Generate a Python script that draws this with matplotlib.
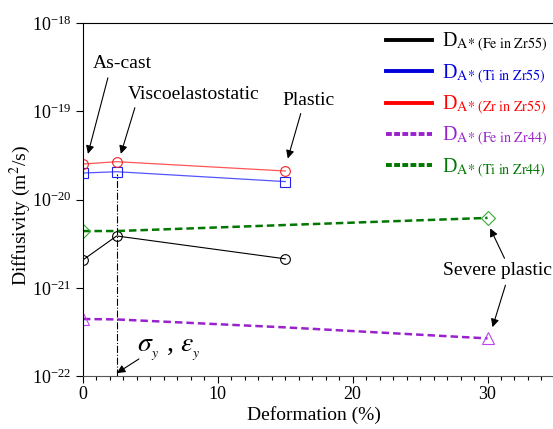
import matplotlib
matplotlib.use("Agg")
import matplotlib.pyplot as plt
from matplotlib.ticker import MultipleLocator, LogLocator, NullLocator
from matplotlib.lines import Line2D

plt.rcParams['font.family'] = ['Liberation Serif', 'DejaVu Serif']
plt.rcParams['mathtext.fontset'] = 'stix'

# Zr55 series (measured at as-cast, viscoelastostatic, plastic)
x_zr55 = [0, 2.5, 15]
fe_zr55 = [2.07e-21, 3.87e-21, 2.13e-21]
ti_zr55 = [2.00e-20, 2.07e-20, 1.60e-20]
zr_zr55 = [2.53e-20, 2.69e-20, 2.11e-20]

# Zr44 series (markers only at the ends)
x_zr44 = [0, 2.5, 15, 30]
fe_zr44 = [4.43e-22, 4.38e-22, 3.56e-22, 2.67e-22]
ti_zr44 = [4.40e-21, 4.40e-21, 5.15e-21, 6.20e-21]

labels = [r"D$_{\mathrm{A{*}\ (Fe\ in\ Zr55)}}$",
          r"D$_{\mathrm{A{*}\ (Ti\ in\ Zr55)}}$",
          r"D$_{\mathrm{A{*}\ (Zr\ in\ Zr55)}}$",
          r"D$_{\mathrm{A{*}\ (Fe\ in\ Zr44)}}$",
          r"D$_{\mathrm{A{*}\ (Ti\ in\ Zr44)}}$"]
colors = ['black', '#0000dd', '#ff0000', '#9922cc', '#007700']

yield_x = 2.5

fig = plt.figure(figsize=(5.53, 4.29), dpi=100)
ax = fig.add_axes([0.150, 0.1235, 0.8535, 0.8225])

ax.plot(x_zr55, fe_zr55, color='black', lw=0.8, marker='o', ms=7,
        mfc='none', mec='black', mew=0.8)
ax.plot(x_zr55, ti_zr55, color='#5555ff', lw=0.9, marker='s', ms=6.5,
        mfc='none', mec='#2222ee', mew=0.8)
ax.plot(x_zr55, zr_zr55, color='#ff5555', lw=0.9, marker='o', ms=7,
        mfc='none', mec='#ee2222', mew=0.8)
ax.plot(x_zr44, fe_zr44, color='#9922cc', lw=1.8, ls=(0, (3, 1.6)),
        marker='^', ms=8, mfc='none', mec='#bb44ee', mew=0.8, markevery=[0, 3])
ax.plot(x_zr44, ti_zr44, color='#007700', lw=1.8, ls=(0, (3, 1.6)),
        marker='D', ms=7, mfc='none', mec='#33aa33', mew=0.8, markevery=[0, 3])

# yield point marker line
ax.plot([yield_x, yield_x], [1e-22, ti_zr55[1] * 0.93], color='black',
        lw=0.8, ls='-.')

ax.set_yscale('log')
ax.set_xlim(0, 35)
ax.set_ylim(1e-22, 1e-18)
ax.yaxis.set_major_locator(LogLocator(base=10, numticks=10))
ax.yaxis.set_minor_locator(NullLocator())
ax.xaxis.set_major_locator(MultipleLocator(10))
ax.xaxis.set_minor_locator(MultipleLocator(1))
ax.tick_params(axis='both', which='major', direction='out', length=5,
               width=0.8, labelsize=13)
ax.tick_params(axis='x', which='major', pad=2)
ax.tick_params(axis='x', which='minor', direction='out', length=3, width=0.8)
ax.spines['bottom'].set_color('#555555')
ax.set_xlabel('Deformation (%)', fontsize=14)
ax.set_ylabel(r'Diffusivity (m$^2$/s)', fontsize=14)
ax.yaxis.set_label_coords(-0.106, 0.456)
ax.xaxis.set_label_coords(0.49, -0.086)

arrow = dict(arrowstyle='-|>', color='black', lw=0.8, mutation_scale=12,
             shrinkA=0, shrinkB=0)
ax.text(2.96, 3.45e-19, 'As-cast', fontsize=14, ha='center', va='center')
ax.annotate('', xy=(0.37, 3.3e-20), xytext=(1.85, 2.4e-19), arrowprops=arrow)
ax.text(3.33, 1.55e-19, 'Viscoelastostatic', fontsize=14, ha='left', va='center')
ax.annotate('', xy=(2.81, 3.3e-20), xytext=(3.85, 1.1e-19), arrowprops=arrow)
ax.text(16.7, 1.32e-19, 'Plastic', fontsize=14, ha='center', va='center')
ax.annotate('', xy=(15.19, 2.92e-20), xytext=(16.15, 9.44e-20), arrowprops=arrow)
ax.text(26.7, 1.59e-21, 'Severe plastic', fontsize=14, ha='left', va='center')
ax.annotate('', xy=(30.2, 4.72e-21), xytext=(31.26, 2.16e-21), arrowprops=arrow)
ax.annotate('', xy=(30.37, 3.58e-22), xytext=(31.33, 1.07e-21), arrowprops=arrow)
ax.annotate('', xy=(2.52, 1.08e-22), xytext=(4.15, 1.56e-22), arrowprops=arrow)
ax.text(4.0, 1.87e-22, r'$\sigma_{_y}$ , $\varepsilon_{_y}$', fontsize=20,
        ha='left', va='baseline')

handles = [Line2D([], [], color=c, lw=2.8) for c in colors[:3]]
handles += [Line2D([], [], color=c, lw=2.8, ls=(0, (1.5, 0.6))) for c in colors[3:]]
leg = ax.legend(handles, labels, loc='upper left', bbox_to_anchor=(0.624, 1.0),
                frameon=False, fontsize=14.5, handlelength=2.3, handletextpad=0.5,
                labelspacing=0.4, borderaxespad=0)
for t, c in zip(leg.get_texts(), colors):
    t.set_color(c)

fig.savefig('out.png', dpi=100)
